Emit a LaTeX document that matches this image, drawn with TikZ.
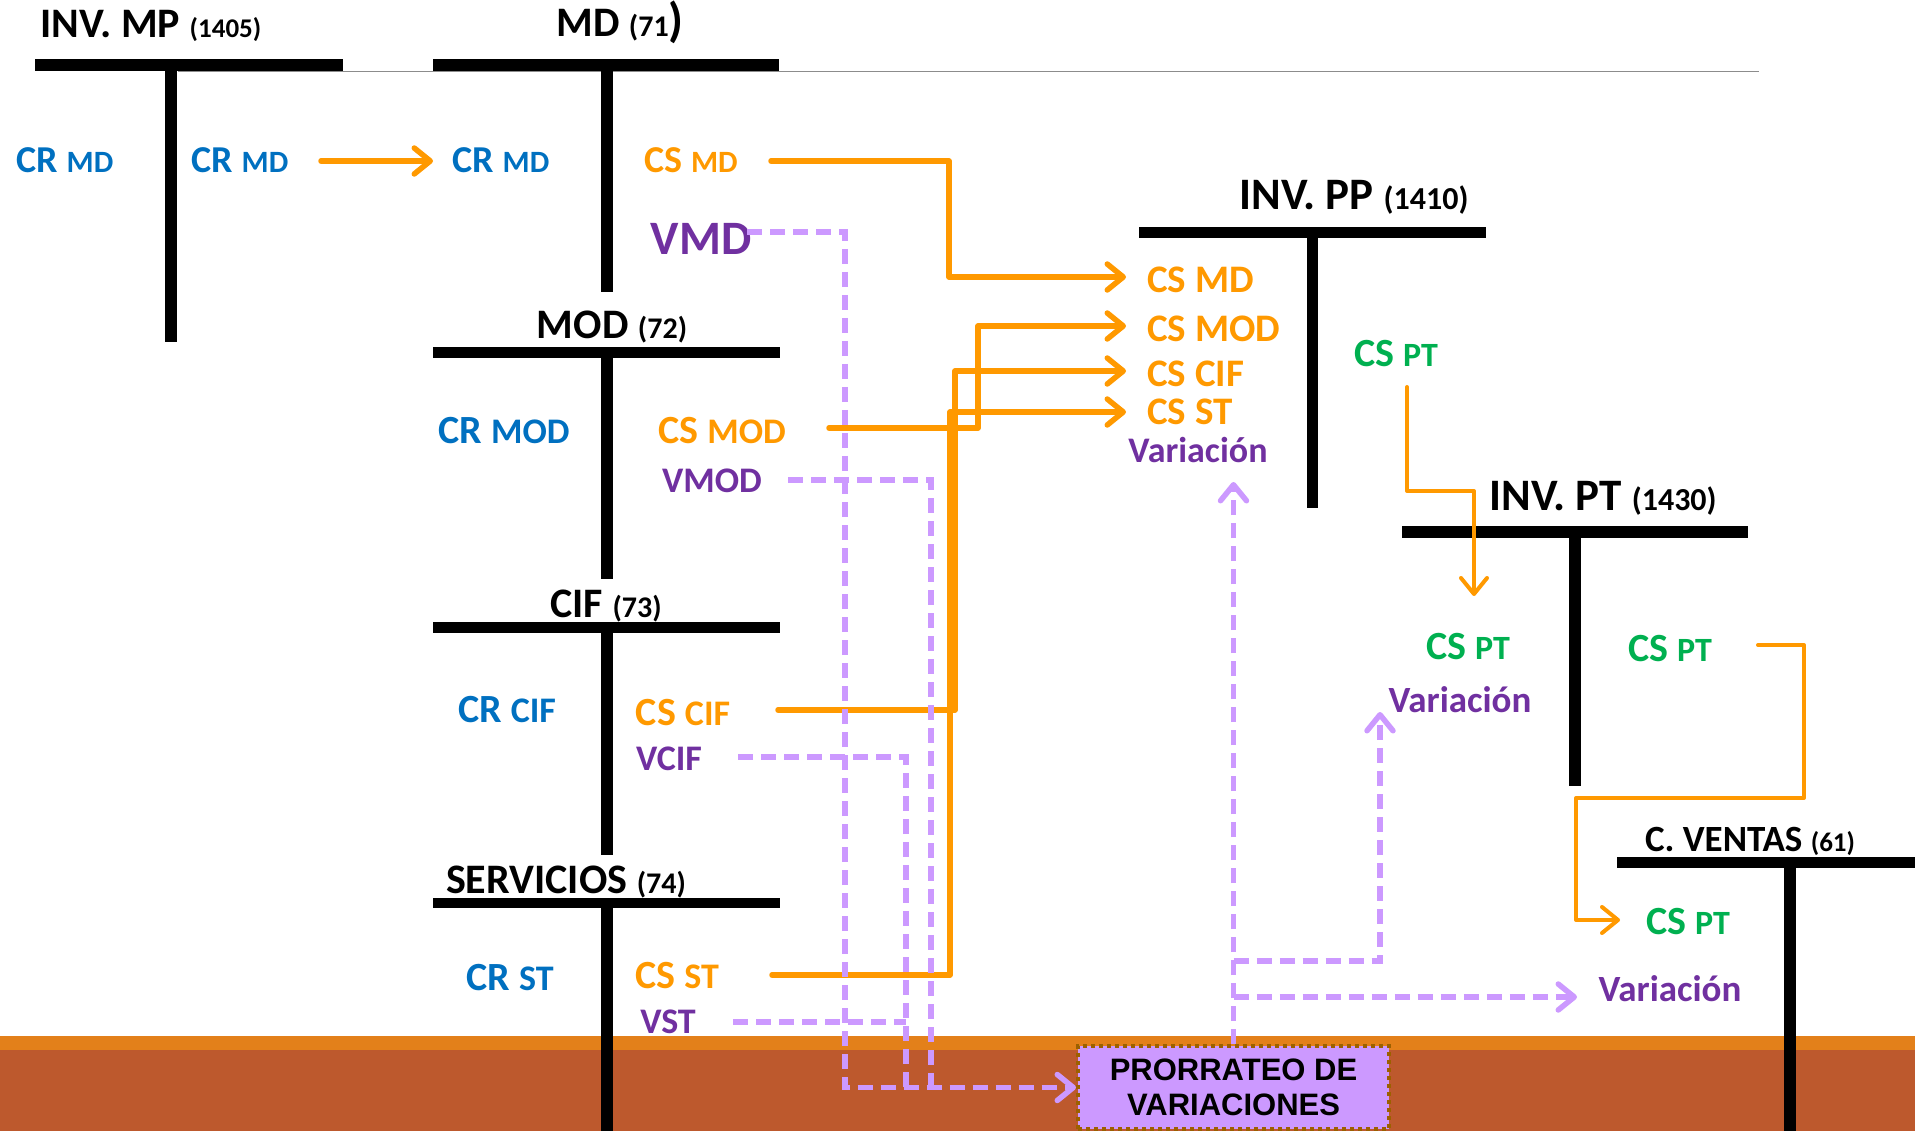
\documentclass[tikz,border=0pt]{standalone}
\usepackage{fontspec}
\setmainfont{Carlito}
\newfontfamily\arialf{Liberation Sans}
\usetikzlibrary{arrows.meta}
\definecolor{blu}{HTML}{0070C0}
\definecolor{orng}{HTML}{FF9900}
\definecolor{purp}{HTML}{7030A0}
\definecolor{grn}{HTML}{00B050}
\definecolor{lav}{HTML}{CC99FF}
\definecolor{bandor}{HTML}{E3801A}
\definecolor{bandbr}{HTML}{BD592D}
\definecolor{boxbd}{HTML}{9C6000}
\definecolor{thingray}{HTML}{8C8C8C}
\newcommand\fsz[1]{\fontsize{#1}{#1}\selectfont}
\newcommand\pairlbl[4]{{\fsz{#1}#3 }{\fsz{#2}#4}}
\begin{document}
\begin{tikzpicture}[x=1pt,y=-1pt,
  ttl/.style={inner sep=0pt, anchor=base, font=\bfseries, text=black},
  lbl/.style={inner sep=0pt, anchor=base, font=\bfseries},
  oline/.style={draw=orng, line width=5.5pt, line join=round, line cap=round},
  othin/.style={oline, line width=4pt},
  tipo/.style={-{Straight Barb[length=16pt,width=26pt,round]}},
  pline/.style={draw=lav, line width=5.5pt, dash pattern=on 15pt off 8pt},
  prbox/.style={fill=lav, draw=boxbd, line width=4pt, dash pattern=on 4pt off 4pt,
     minimum width=311pt, minimum height=83pt, inner sep=0pt, align=center,
     font=\arialf\bfseries\fontsize{31}{35}\selectfont, text=black}]
\useasboundingbox (0,0) rectangle (1915,1131);
% bottom band
\fill[bandor] (0,1036) rectangle (1915,1050);
\fill[bandbr] (0,1050) rectangle (1915,1131);
% thin gray line
\draw[thingray, line width=1.5pt] (178,71.5) -- (1759,71.5);
% T accounts
\fill (35,59) rectangle (343,71);   \fill (165,65) rectangle (177,342);
\fill (433,59) rectangle (779,71);  \fill (601,65) rectangle (613,292);
\fill (433,347) rectangle (780,358); \fill (601,352) rectangle (613,579);
\fill (433,622) rectangle (780,633); \fill (601,628) rectangle (613,855);
\fill (433,898) rectangle (780,908); \fill (601,903) rectangle (613,1131);
\fill (1139,227) rectangle (1486,238); \fill (1307,232) rectangle (1318,508);
\fill (1402,526) rectangle (1748,538); \fill (1569,532) rectangle (1581,786);
\fill (1617,857) rectangle (1915,868); \fill (1784,862) rectangle (1796,1131);
% box
\node[prbox] (prorr) at (1233.5,1087.5) {PRORRATEO DE\\VARIACIONES};
% titles
\node[ttl] (tMP) at (151,38) {{\fsz{42}INV. MP }{\fsz{27}(1405)}};
\node[ttl] (tMD) at (620,37) {{\fsz{42}MD }{\fsz{30}(71}{\fsz{48})}};
\node[ttl] (tMOD) at (612,339) {{\fsz{42}MOD }{\fsz{30}(72)}};
\node[ttl] (tCIF) at (606,617) {{\fsz{42}CIF }{\fsz{30}(73)}};
\node[ttl] (tSERV) at (566,893) {{\fsz{42}SERVICIOS }{\fsz{30}(74)}};
\node[ttl] (tPP) at (1354,210) {{\fsz{45}INV. PP }{\fsz{32}(1410)}};
\node[ttl] (tPT) at (1603,510) {{\fsz{45}INV. PT }{\fsz{32}(1430)}};
\node[ttl] (tCV) at (1750,851) {{\fsz{37}C. VENTAS }{\fsz{27}(61)}};
% labels left column
\node[lbl, text=blu] (crA) at (65,173) {\pairlbl{38}{31}{CR}{MD}};
\node[lbl, text=blu] (crB) at (240,173) {\pairlbl{38}{31}{CR}{MD}};
\node[lbl, text=blu] (crC) at (501,173) {\pairlbl{38}{31}{CR}{MD}};
\node[lbl, text=orng] (csMD) at (691,173) {\pairlbl{38}{31}{CS}{MD}};
\node[lbl, text=purp] (vMD) at (701,255) {\fsz{48}VMD};
\node[lbl, text=blu] (crMOD) at (504,443) {\pairlbl{40}{36}{CR}{MOD}};
\node[lbl, text=orng] (csMOD) at (722,443) {\pairlbl{40}{36}{CS}{MOD}};
\node[lbl, text=purp] (vMOD) at (712,493) {\fsz{36}VMOD};
\node[lbl, text=blu] (crCIF) at (507,722) {\pairlbl{40}{36}{CR}{CIF}};
\node[lbl, text=orng] (csCIF) at (683,725) {\pairlbl{40}{36}{CS}{CIF}};
\node[lbl, text=purp] (vCIF) at (669,770) {\fsz{36}VCIF};
\node[lbl, text=blu] (crST) at (510,990) {\pairlbl{40}{36}{CR}{ST}};
\node[lbl, text=orng] (csST) at (677,988) {\pairlbl{40}{36}{CS}{ST}};
\node[lbl, text=purp] (vST) at (668,1033) {\fsz{36}VST};
% INV PP
\node[lbl, anchor=base west, text=orng] (ppMD) at (1147,293) {\fsz{39}CS MD};
\node[lbl, anchor=base west, text=orng] (ppMOD) at (1147,342) {\fsz{39}CS MOD};
\node[lbl, anchor=base west, text=orng] (ppCIF) at (1147,387) {\fsz{39}CS CIF};
\node[lbl, anchor=base west, text=orng] (ppST) at (1147,425) {\fsz{39}CS ST};
\node[lbl, text=purp] (ppVar) at (1198,463) {\fsz{36}Variación};
\node[lbl, text=grn] (ppPT) at (1396,367) {\pairlbl{40}{34}{CS}{PT}};
% INV PT
\node[lbl, text=grn] (ptIn) at (1468,659) {\pairlbl{40}{34}{CS}{PT}};
\node[lbl, text=purp] (ptVar) at (1460,712) {\fsz{37}Variación};
\node[lbl, text=grn] (ptOut) at (1670,661) {\pairlbl{40}{34}{CS}{PT}};
% C VENTAS
\node[lbl, text=grn] (cvPT) at (1688,934) {\pairlbl{40}{34}{CS}{PT}};
\node[lbl, text=purp] (cvVar) at (1670,1001) {\fsz{37}Variación};
% orange connectors
\coordinate (a1) at (321,161); \coordinate (a2) at (433,161);
\draw[oline,tipo] (a1) -- (a2);
\coordinate (b1) at (771,161); \coordinate (b2) at (949,277); \coordinate (b3) at (1126,277);
\draw[oline,tipo] (b1) -| (b2) -- (b3);
\coordinate (c1) at (829,428); \coordinate (c2) at (978,326); \coordinate (c3) at (1126,326);
\draw[oline,tipo] (c1) -| (c2) -- (c3);
\coordinate (d1) at (778,710); \coordinate (d2) at (955,371); \coordinate (d3) at (1126,371);
\draw[oline,tipo] (d1) -| (d2) -- (d3);
\coordinate (e1) at (772,975); \coordinate (e2) at (950,412); \coordinate (e3) at (1126,412);
\draw[oline,tipo] (e1) -| (e2) -- (e3);
\coordinate (f1) at (1407,387); \coordinate (f2) at (1474,491); \coordinate (f3) at (1474,596);
\draw[othin,tipo] (f1) |- (f2) -- (f3);
\coordinate (g1) at (1758,645); \coordinate (g2) at (1804,798); \coordinate (g3) at (1576,920); \coordinate (g4) at (1620,920);
\draw[othin,tipo] (g1) -| (g2) -| (g3) -- (g4);
% purple dashed connectors
\coordinate (p1) at (747,232); \coordinate (p1b) at (845,1087.5);
\draw[pline,tipo] (p1) -| (p1b) -- (prorr.west);
\coordinate (p2) at (788,480); \coordinate (p2b) at (931,1087.5);
\draw[pline] (p2) -| (p2b);
\coordinate (p3) at (738,757); \coordinate (p3b) at (906,1087.5);
\draw[pline] (p3) -| (p3b);
\coordinate (p4) at (733,1022); \coordinate (p4b) at (906,1022);
\draw[pline] (p4) -- (p4b);
\coordinate (q1) at (1233.5,482);
\draw[pline,tipo] (prorr.north) -- (q1);
\coordinate (r1) at (1233.5,961); \coordinate (r2) at (1380,712);
\draw[pline,tipo] (r1) -| (r2);
\coordinate (s1) at (1233.5,997); \coordinate (s2) at (1577,997);
\draw[pline,tipo] (s1) -- (s2);
\end{tikzpicture}
\end{document}
